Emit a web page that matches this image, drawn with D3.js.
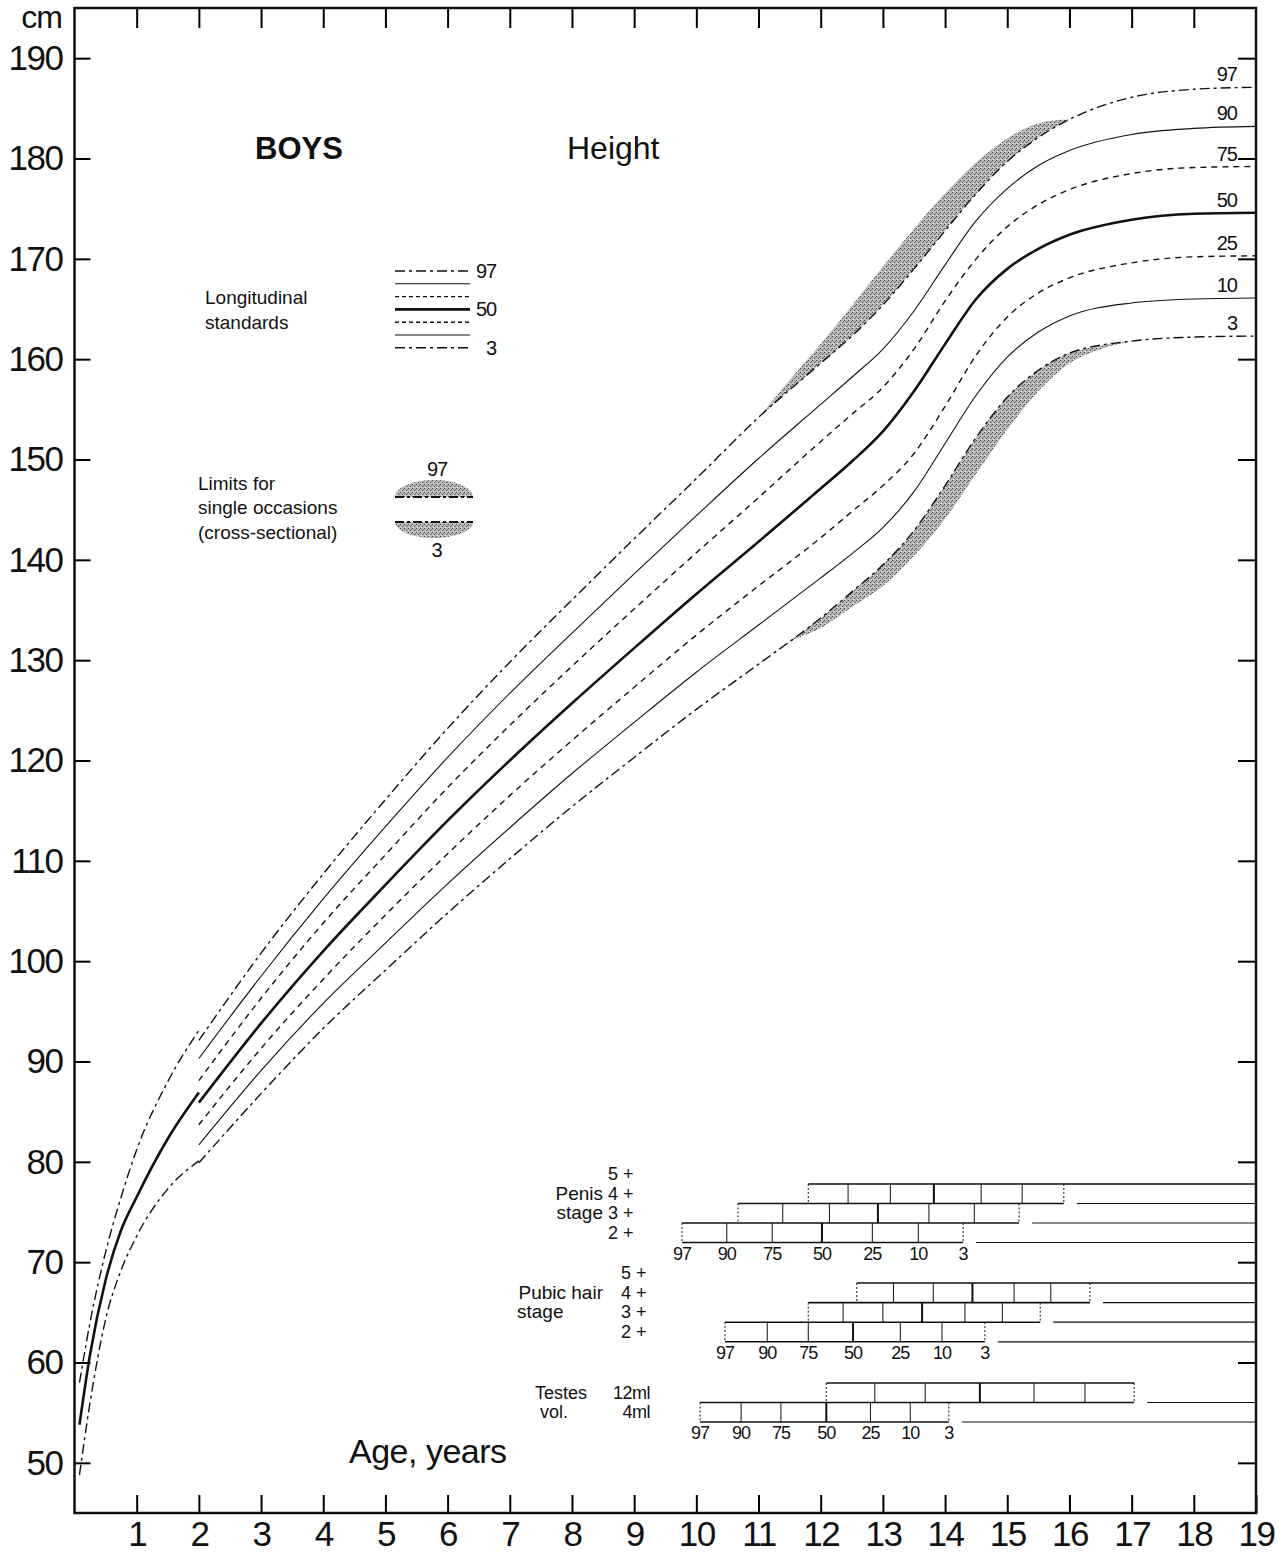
<!DOCTYPE html>
<html>
<head>
<meta charset="utf-8">
<script src="https://cdn.jsdelivr.net/npm/d3@7"></script>
<style>
  html, body { margin: 0; padding: 0; background: #fff; }
  svg { display: block; }
  text { font-family: "Liberation Sans", Arial, sans-serif; fill: #111; }
</style>
</head>
<body>
<svg id="chart"></svg>
<script>
// ---- data ----
const centileNames = ["97", "90", "75", "50", "25", "10", "3"];

// birth to 2 years (supine length), only 97 / 50 / 3 drawn
const preAges = [0.08, 0.25, 0.5, 0.75, 1, 1.5, 2];
const pre97 = [58.0, 64.0, 71.0, 76.5, 81.2, 88.0, 93.1];
const pre50 = [53.8, 60.8, 68.2, 73.2, 76.5, 82.3, 86.9];
const pre3 = [48.8, 56.0, 64.3, 69.2, 72.6, 77.3, 80.1];

// 2 to 19 years (standing height)
const ages = [2, 3, 4, 5, 6, 7, 8, 9, 10, 11, 12, 12.5, 13, 13.5, 14, 14.5, 15, 15.5, 16, 17, 18, 19];
const p97 = [92.1, 100.8, 108.7, 116.1, 123.2, 129.8, 136.0, 142.1, 148.1, 154.2, 159.6, 162.3, 165.4, 169.0, 172.8, 176.5, 179.7, 182.1, 183.9, 186.1, 186.9, 187.1];
const p90 = [90.3, 98.5, 106.2, 113.4, 120.3, 126.7, 132.7, 138.6, 144.4, 150.1, 155.5, 158.2, 161.0, 164.8, 169.4, 173.8, 177.0, 179.3, 180.8, 182.4, 183.0, 183.2];
const p75 = [88.1, 96.3, 103.8, 110.6, 117.3, 123.5, 129.4, 135.1, 140.7, 146.2, 151.8, 154.5, 157.2, 161.0, 165.8, 170.0, 173.2, 175.4, 176.9, 178.5, 179.1, 179.2];
const p50 = [85.9, 93.8, 101.0, 107.6, 114.0, 120.0, 125.7, 131.2, 136.6, 141.8, 147.1, 149.8, 152.8, 156.8, 161.5, 166.0, 169.0, 171.0, 172.4, 173.9, 174.5, 174.6];
const p25 = [83.7, 91.3, 98.2, 104.6, 110.7, 116.5, 122.0, 127.3, 132.5, 137.4, 142.2, 144.8, 147.4, 150.6, 155.3, 160.4, 164.2, 166.6, 168.1, 169.6, 170.2, 170.3];
const p10 = [81.7, 89.1, 95.8, 101.8, 107.7, 113.3, 118.7, 123.8, 128.8, 133.5, 138.2, 140.6, 143.2, 146.8, 151.6, 156.4, 160.2, 162.7, 164.3, 165.6, 166.0, 166.1];
const p3 = [79.9, 86.8, 93.3, 99.1, 104.8, 110.2, 115.4, 120.3, 125.1, 129.6, 134.2, 136.8, 139.5, 142.9, 147.4, 152.2, 156.2, 158.9, 160.6, 161.8, 162.2, 162.3];

// cross-sectional limits (edges of the shaded bands)
const cross97Ages = [11, 11.5, 12, 12.5, 13, 13.5, 14, 14.5, 15, 15.5, 16];
const cross97 = [154.2, 157.9, 161.5, 165.3, 169.2, 173.0, 176.5, 179.6, 182.0, 183.5, 183.9];
const cross3Ages = [11, 11.5, 12, 12.5, 13, 13.5, 14, 14.5, 15, 15.5, 16, 16.5, 17];
const cross3 = [129.6, 131.8, 133.2, 135.3, 137.4, 140.4, 144.1, 148.6, 153.0, 156.8, 159.6, 161.0, 161.8];

// puberty: ages at which 97..3 % have reached each stage
const penisStages = ["5 +", "4 +", "3 +", "2 +"];
const penisBoxes = [
  [11.80, 12.44, 13.12, 13.82, 14.58, 15.24, 15.91],
  [10.67, 11.39, 12.14, 12.92, 13.74, 14.47, 15.19],
  [9.77, 10.49, 11.22, 12.02, 12.83, 13.57, 14.29]
];
const pubicStages = ["5 +", "4 +", "3 +", "2 +"];
const pubicBoxes = [
  [12.58, 13.17, 13.81, 14.44, 15.11, 15.70, 16.33],
  [11.80, 12.36, 13.00, 13.63, 14.32, 14.92, 15.53],
  [10.46, 11.14, 11.80, 12.52, 13.28, 13.95, 14.64]
];
const testesStages = ["12ml", "4ml"];
const testesBoxes = [
  [12.09, 12.87, 13.68, 14.56, 15.43, 16.25, 17.04],
  [10.06, 10.72, 11.36, 12.09, 12.80, 13.44, 14.06]
];

const xTicks = d3.range(1, 20);
const yTicks = d3.range(50, 191, 10);

// ---- layout ----
const width = 1288;
const height = 1553;
const x = d3.scaleLinear().domain([0, 19]).range([74.5, 1256]);
const y = d3.scaleLinear().domain([45, 195]).range([1513, 8]);

const svg = d3.select("#chart").attr("width", width).attr("height", height);

// stipple used for the cross-sectional bands
const defs = svg.append("defs");
const pat = defs.append("pattern")
  .attr("id", "stipple")
  .attr("width", 4).attr("height", 4)
  .attr("patternUnits", "userSpaceOnUse");
pat.append("rect").attr("width", 4).attr("height", 4).attr("fill", "#b8b8b8");
pat.append("rect").attr("x", 0).attr("y", 0).attr("width", 1).attr("height", 1).attr("fill", "#3a3a3a");
pat.append("rect").attr("x", 2).attr("y", 2).attr("width", 1).attr("height", 1).attr("fill", "#4a4a4a");
pat.append("rect").attr("x", 3).attr("y", 1).attr("width", 1).attr("height", 1).attr("fill", "#808080");
pat.append("rect").attr("x", 1).attr("y", 3).attr("width", 1).attr("height", 1).attr("fill", "#eee");

const line = d3.line()
  .x((d) => x(d[0]))
  .y((d) => y(d[1]))
  .curve(d3.curveMonotoneX);

const lineBack = d3.line()
  .x((d) => x(d[0]))
  .y((d) => y(d[1]))
  .curve(d3.curveCatmullRom.alpha(0.5));

const zip = (a, b) => a.map((v, i) => [v, b[i]]);

// ---- shaded bands ----
function band(edgeAges, edgeVals, lineVals) {
  const lo = edgeAges[0];
  const hi = edgeAges[edgeAges.length - 1];
  const edge = zip(edgeAges, edgeVals);
  const back = zip(ages, lineVals).filter((d) => d[0] >= lo && d[0] <= hi).reverse();
  return line(edge) + "L" + lineBack(back).slice(1) + "Z";
}
svg.append("path").attr("d", band(cross97Ages, cross97, p97)).attr("fill", "url(#stipple)");
svg.append("path").attr("d", band(cross3Ages, cross3, p3)).attr("fill", "url(#stipple)");

// ---- centile curves ----
const styles = {
  "97": { w: 1.4, dash: "10,4,3,4" },
  "90": { w: 1.1, dash: null },
  "75": { w: 1.4, dash: "6,5" },
  "50": { w: 2.6, dash: null },
  "25": { w: 1.4, dash: "6,5" },
  "10": { w: 1.1, dash: null },
  "3": { w: 1.4, dash: "10,4,3,4" }
};
const postSeries = [p97, p90, p75, p50, p25, p10, p3];
const preSeries = { "97": pre97, "50": pre50, "3": pre3 };

const curves = svg.append("g").attr("fill", "none").attr("stroke", "#111");
centileNames.forEach((name, i) => {
  const st = styles[name];
  curves.append("path")
    .attr("d", line(zip(ages, postSeries[i])))
    .attr("stroke-width", st.w)
    .attr("stroke-dasharray", st.dash);
  if (preSeries[name]) {
    curves.append("path")
      .attr("d", line(zip(preAges, preSeries[name])))
      .attr("stroke-width", st.w)
      .attr("stroke-dasharray", st.dash);
  }
  svg.append("text")
    .attr("x", x(19) - 19)
    .attr("y", y(postSeries[i][postSeries[i].length - 1]) - 6)
    .attr("text-anchor", "end")
    .attr("font-size", 20)
    .attr("letter-spacing", -1)
    .text(name);
});

// ---- axes and frame ----
const axisFont = (g) => g.selectAll("text")
  .attr("font-size", 35)
  .attr("letter-spacing", -1.5)
  .attr("fill", "#111")
  .attr("font-family", "Liberation Sans, Arial, sans-serif");

svg.append("g")
  .attr("transform", `translate(${x(0)},0)`)
  .call(d3.axisLeft(y).tickValues(yTicks).tickSizeInner(-16).tickSizeOuter(0).tickPadding(12))
  .call((g) => g.select(".domain").remove())
  .call((g) => g.selectAll("line").attr("stroke-width", 2))
  .call(axisFont);

svg.append("g")
  .attr("transform", `translate(${x(19)},0)`)
  .call(d3.axisRight(y).tickValues(yTicks).tickSizeInner(-18).tickSizeOuter(0).tickFormat(""))
  .call((g) => g.select(".domain").remove())
  .call((g) => g.selectAll("line").attr("stroke-width", 2));

svg.append("g")
  .attr("transform", `translate(0,${y(195)})`)
  .call(d3.axisTop(x).tickValues(xTicks.slice(0, -1)).tickSizeInner(-20).tickSizeOuter(0).tickFormat(""))
  .call((g) => g.select(".domain").remove())
  .call((g) => g.selectAll("line").attr("stroke-width", 2));

svg.append("g")
  .attr("transform", `translate(0,${y(45)})`)
  .call(d3.axisBottom(x).tickValues(xTicks).tickSizeInner(-18).tickSizeOuter(0).tickPadding(8))
  .call((g) => g.select(".domain").remove())
  .call((g) => g.selectAll("line").attr("stroke-width", 2))
  .call(axisFont);

svg.append("rect")
  .attr("x", x(0)).attr("y", y(195))
  .attr("width", x(19) - x(0)).attr("height", y(45) - y(195))
  .attr("fill", "none").attr("stroke", "#111").attr("stroke-width", 2.5);

svg.append("text").attr("x", 62).attr("y", 28).attr("text-anchor", "end")
  .attr("font-size", 32).attr("letter-spacing", -1).text("cm");

// ---- titles ----
svg.append("text").attr("x", 255).attr("y", 159).attr("font-size", 31)
  .attr("font-weight", "bold").text("BOYS");
svg.append("text").attr("x", 567).attr("y", 159).attr("font-size", 32).text("Height");
svg.append("text").attr("x", 349).attr("y", 1463).attr("font-size", 34)
  .attr("letter-spacing", -0.5).text("Age, years");

// ---- legend: longitudinal standards ----
const legend = svg.append("g");
legend.append("text").attr("x", 205).attr("y", 304).attr("font-size", 19).text("Longitudinal");
legend.append("text").attr("x", 205).attr("y", 329).attr("font-size", 19).text("standards");
centileNames.forEach((name, i) => {
  const ly = 271 + i * 12.8;
  const st = styles[name];
  legend.append("line")
    .attr("x1", 395).attr("x2", 470).attr("y1", ly).attr("y2", ly)
    .attr("stroke", "#111")
    .attr("stroke-width", st.w)
    .attr("stroke-dasharray", name === "75" || name === "25" ? "4,3" : st.dash);
  if (name === "97" || name === "50" || name === "3") {
    legend.append("text")
      .attr("x", name === "3" ? 486 : 476).attr("y", ly + 7)
      .attr("font-size", 20).attr("letter-spacing", -1).text(name);
  }
});

// ---- legend: cross-sectional limits ----
legend.append("text").attr("x", 198).attr("y", 490).attr("font-size", 19).text("Limits for");
legend.append("text").attr("x", 198).attr("y", 514).attr("font-size", 19).text("single occasions");
legend.append("text").attr("x", 198).attr("y", 539).attr("font-size", 19).text("(cross-sectional)");
legend.append("path").attr("d", "M395,497 A39,17 0 0 1 473,497 Z").attr("fill", "url(#stipple)");
legend.append("path").attr("d", "M395,522 A39,16 0 0 0 473,522 Z").attr("fill", "url(#stipple)");
[497, 522].forEach((ly) => {
  legend.append("line")
    .attr("x1", 395).attr("x2", 473).attr("y1", ly).attr("y2", ly)
    .attr("stroke", "#111").attr("stroke-width", 2.2).attr("stroke-dasharray", "9,3,3,3");
});
legend.append("text").attr("x", 437).attr("y", 476).attr("text-anchor", "middle")
  .attr("font-size", 20).attr("letter-spacing", -1).text("97");
legend.append("text").attr("x", 437).attr("y", 557).attr("text-anchor", "middle")
  .attr("font-size", 20).text("3");

// ---- puberty stage panels ----
function drawBlock(boxes, topY, rowH, topToAxis) {
  const g = svg.append("g").attr("stroke", "#111").attr("fill", "none");
  const n = boxes.length;
  const ly = (k) => topY + k * rowH;
  const gap = 13;
  const seg = (x1, x2, yy, w) => g.append("line")
    .attr("x1", x1).attr("x2", x2).attr("y1", yy).attr("y2", yy).attr("stroke-width", w);

  for (let k = 0; k <= n; k++) {
    if (k === 0) {
      seg(x(boxes[0][0]), topToAxis ? x(19) : x(boxes[0][6]), ly(0), 1.6);
    } else if (k < n) {
      seg(x(boxes[k][0]), x(boxes[k - 1][6]), ly(k), 1.6);
      seg(x(boxes[k - 1][6]) + gap, x(19), ly(k), 1.2);
    } else {
      seg(x(boxes[n - 1][0]), x(boxes[n - 1][6]), ly(k), 1.6);
      seg(x(boxes[n - 1][6]) + gap, x(19), ly(k), 1.2);
    }
  }
  boxes.forEach((b, i) => {
    b.forEach((a, j) => {
      const edge = j === 0 || j === 6;
      g.append("line")
        .attr("x1", x(a)).attr("x2", x(a))
        .attr("y1", ly(i)).attr("y2", ly(i + 1))
        .attr("stroke-width", j === 3 ? 2 : 1)
        .attr("stroke-dasharray", edge ? "2,2" : null);
    });
  });
  boxes[n - 1].forEach((a, j) => {
    svg.append("text")
      .attr("x", x(a)).attr("y", ly(n) + 17)
      .attr("text-anchor", "middle")
      .attr("font-size", 18).attr("letter-spacing", -1)
      .text(centileNames[j]);
  });
  return ly;
}

const penisY = drawBlock(penisBoxes, 1184, 19.5, true);
penisStages.forEach((s, i) => {
  svg.append("text").attr("x", 608).attr("y", penisY(i - 0.5) + 6)
    .attr("font-size", 18).text(s);
});
svg.append("text").attr("x", 603).attr("y", penisY(0.5) + 6).attr("text-anchor", "end")
  .attr("font-size", 19).text("Penis");
svg.append("text").attr("x", 603).attr("y", penisY(1.5) + 6).attr("text-anchor", "end")
  .attr("font-size", 19).text("stage");

const pubicY = drawBlock(pubicBoxes, 1283, 19.6, true);
pubicStages.forEach((s, i) => {
  svg.append("text").attr("x", 621).attr("y", pubicY(i - 0.5) + 6)
    .attr("font-size", 18).text(s);
});
svg.append("text").attr("x", 603).attr("y", pubicY(0.5) + 6).attr("text-anchor", "end")
  .attr("font-size", 19).text("Pubic hair");
svg.append("text").attr("x", 517).attr("y", pubicY(1.5) + 6)
  .attr("font-size", 19).text("stage");

const testesY = drawBlock(testesBoxes, 1383, 19.5, false);
testesStages.forEach((s, i) => {
  svg.append("text").attr("x", 650).attr("y", testesY(i + 0.5) + 6)
    .attr("text-anchor", "end").attr("font-size", 18).attr("letter-spacing", -0.5).text(s);
});
svg.append("text").attr("x", 535).attr("y", testesY(0.5) + 6)
  .attr("font-size", 18).text("Testes");
svg.append("text").attr("x", 540).attr("y", testesY(1.5) + 6)
  .attr("font-size", 18).text("vol.");
</script>
</body>
</html>
